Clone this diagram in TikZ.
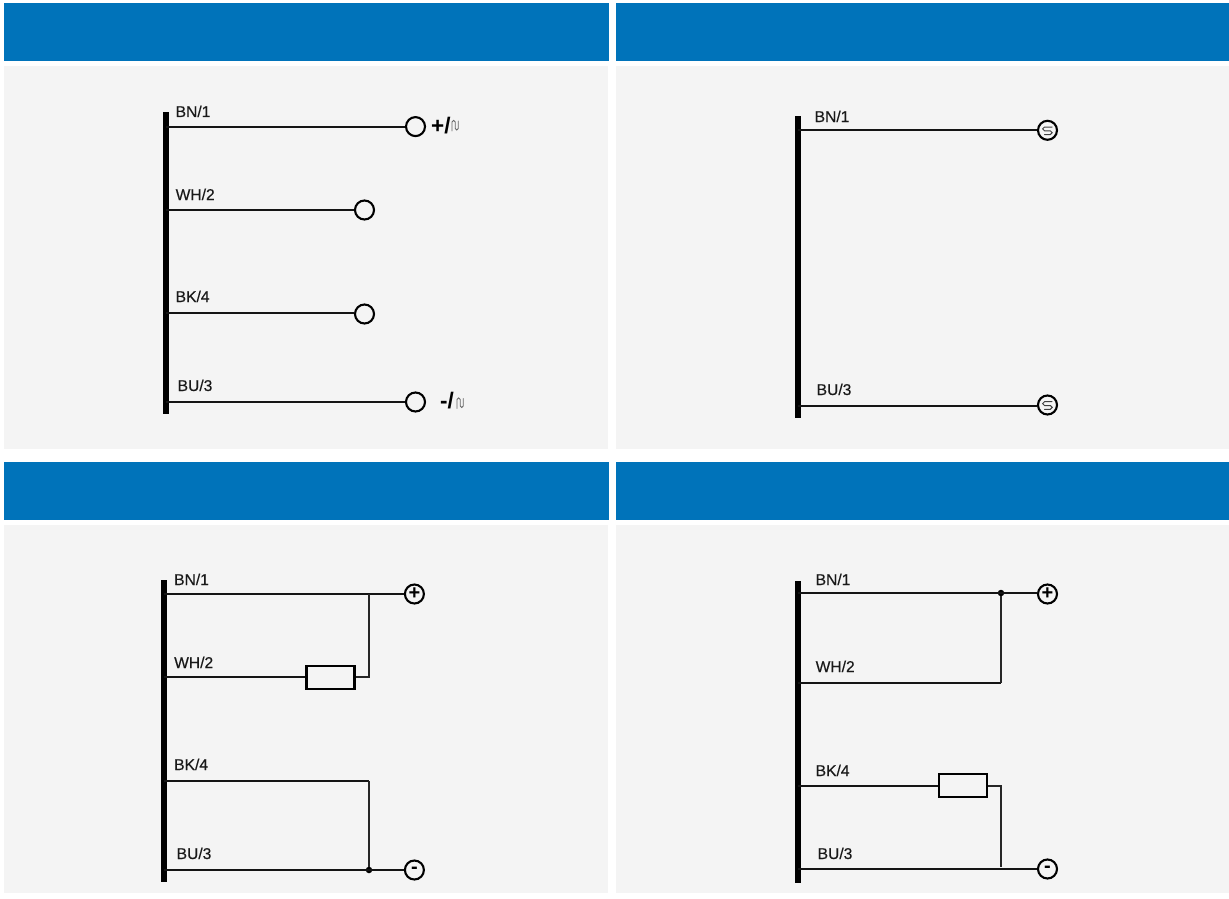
\documentclass[tikz,border=0pt]{standalone}
\usepackage{fontspec}
\setmainfont{Liberation Sans}
\newfontfamily\tagfont[FakeBold=0.4]{Liberation Sans}
\usetikzlibrary{calc}
\definecolor{hdr}{HTML}{0073BA}
\definecolor{pane}{HTML}{F4F4F4}
\tikzset{
  header/.style={fill=hdr,draw=none},
  panel/.style={fill=pane,draw=none},
  busbar/.style={fill=black,draw=none,rectangle,minimum width=5.3pt,inner sep=0pt,outer sep=0pt},
  wire/.style={line width=2.3pt,black!92},
  thinwire/.style={line width=2pt,black!85},
  term/.style={circle,draw=black,line width=2.1pt,minimum size=19pt,inner sep=0pt,fill=pane,font=\fontsize{20}{20}\selectfont\bfseries},
  tag/.style={anchor=base west,inner sep=0pt,font=\tagfont\fontsize{15.6}{16}\selectfont,text=black!90},
  polar/.style={anchor=base west,inner sep=0pt,font=\fontsize{22.5}{22}\selectfont\bfseries},
  load/.style={rectangle,draw=black,line width=2.1pt,minimum width=48pt,minimum height=23pt,inner sep=0pt,fill=pane},
  junction/.style={circle,fill=black,minimum size=6.5pt,inner sep=0pt},
  wave/.style={line width=0.8pt,black!60,line cap=round}
}
\newcommand{\hwave}[1]{\draw[line width=1pt,black!75,line cap=round] ($(#1)+(4.5,-3.3)$) -- ($(#1)+(-3,-3.3)$) arc[start angle=270,end angle=90,radius=1.9] -- ($(#1)+(2.8,0.5)$) arc[start angle=270,end angle=450,radius=1.9] -- ($(#1)+(-3,4.3)$);}
\newcommand{\vwave}[1]{\draw[wave] ($(#1)+(-3,6)$) -- ($(#1)+(-3,-3)$) arc[start angle=180,end angle=360,radius=1.6] -- ($(#1)+(0.2,3.5)$) arc[start angle=180,end angle=0,radius=1.5] -- ($(#1)+(3.2,-4)$);}
\begin{document}
\begin{tikzpicture}[x=1pt,y=-1pt]
\useasboundingbox (0,0) rectangle (1229,899);
\fill[white] (0,0) rectangle (1229,899);
% headers and panels
\path[header] (4,3) rectangle (609,61);
\path[header] (616,3) rectangle (1229,61);
\path[header] (4,462) rectangle (609,520);
\path[header] (616,462) rectangle (1229,520);
\path[panel] (4,66) rectangle (608,449);
\path[panel] (616,66) rectangle (1229,449);
\path[panel] (4,525) rectangle (608,893);
\path[panel] (616,525) rectangle (1229,893);

% ---------- panel 1
\node[busbar,minimum height=302pt] (busA) at (166,263) {};
\coordinate (a1) at (166,127);
\coordinate (a2) at (166,210);
\coordinate (a3) at (166,313);
\coordinate (a4) at (166,402);
\node[term] (ta1) at (415.5,126.6) {};
\node[term] (ta2) at (364.5,210) {};
\node[term] (ta3) at (364.5,314) {};
\node[term] (ta4) at (415.5,402) {};
\draw[wire] (a1) -- (a1-|ta1.west);
\draw[wire] (a2) -- (ta2);
\draw[wire] (a3) -- (a3-|ta3.west);
\draw[wire] (a4) -- (ta4);
\node[tag] (la1) at (175.5,117) {BN/1};
\node[tag] (la2) at (175.5,200) {WH/2};
\node[tag] (la3) at (175.5,302) {BK/4};
\node[tag] (la4) at (177.5,391) {BU/3};
\node[polar] (pa1) at (431,133) {+/};
\node[polar] (pa4) at (440,408) {-/};
\coordinate (wa1) at (455,125);
\coordinate (wa4) at (460,402.5);
\vwave{wa1}
\vwave{wa4}

% ---------- panel 2
\node[busbar,minimum height=302pt] (busB) at (798,267) {};
\coordinate (b1) at (798,130);
\coordinate (b4) at (798,406);
\node[term] (tb1) at (1047.5,130.3) {};
\node[term] (tb4) at (1047.5,405) {};
\draw[wire] (b1) -- (b1-|tb1.west);
\draw[wire] (b4) -- (b4-|tb4.west);
\node[tag] (lb1) at (814.5,122) {BN/1};
\node[tag] (lb4) at (816.5,395) {BU/3};
\hwave{tb1}
\hwave{tb4}

% ---------- panel 3
\node[busbar,minimum height=302pt] (busC) at (164,731) {};
\coordinate (c1) at (164,594);
\coordinate (c2) at (164,677);
\coordinate (c3) at (164,781);
\coordinate (c4) at (164,870);
\coordinate (c5) at (369,594);
\coordinate (c6) at (369,677);
\coordinate (c7) at (369,781);
\node[term] (tc1) at (414.4,594) {+};
\node[term] (tc4) at (414.4,870) {-};
\node[load] (rc) at (330.5,677.5) {};
\node[junction] (jc) at (369,870) {};
\draw[wire] (c1) -- (tc1);
\draw[wire] (c4) -- (tc4);
\draw[wire] (c2) -- (c2-|rc.west);
\draw[thinwire] (c6-|rc.east) -- (c6) -- (c5);
\draw[wire] (c3) -- (c7);
\draw[thinwire] (c7) -- (jc);
\node[tag] (lc1) at (174,585) {BN/1};
\node[tag] (lc2) at (174,668) {WH/2};
\node[tag] (lc3) at (174,770) {BK/4};
\node[tag] (lc4) at (176.5,859) {BU/3};

% ---------- panel 4
\node[busbar,minimum height=302pt] (busD) at (798,732) {};
\coordinate (d1) at (798,593);
\coordinate (d2) at (798,683);
\coordinate (d3) at (798,786);
\coordinate (d4) at (798,869);
\coordinate (d5) at (1001,683);
\coordinate (d6) at (1001,786);
\coordinate (d7) at (1001,867);
\node[term] (td1) at (1047.5,594) {+};
\node[term] (td4) at (1047.5,869) {-};
\node[load] (rd) at (963,785.5) {};
\node[junction] (jd) at (1001,593) {};
\draw[wire] (d1) -- (d1-|td1.west);
\draw[wire] (d4) -- (td4);
\draw[wire] (d2) -- (d5);
\draw[thinwire] (d5) -- (jd);
\draw[wire] (d3) -- (d3-|rd.west);
\draw[thinwire] (d6-|rd.east) -- (d6) -- (d7);
\node[tag] (ld1) at (815.5,585) {BN/1};
\node[tag] (ld2) at (815.5,672) {WH/2};
\node[tag] (ld3) at (815.5,776) {BK/4};
\node[tag] (ld4) at (817.5,859) {BU/3};
\end{tikzpicture}
\end{document}
